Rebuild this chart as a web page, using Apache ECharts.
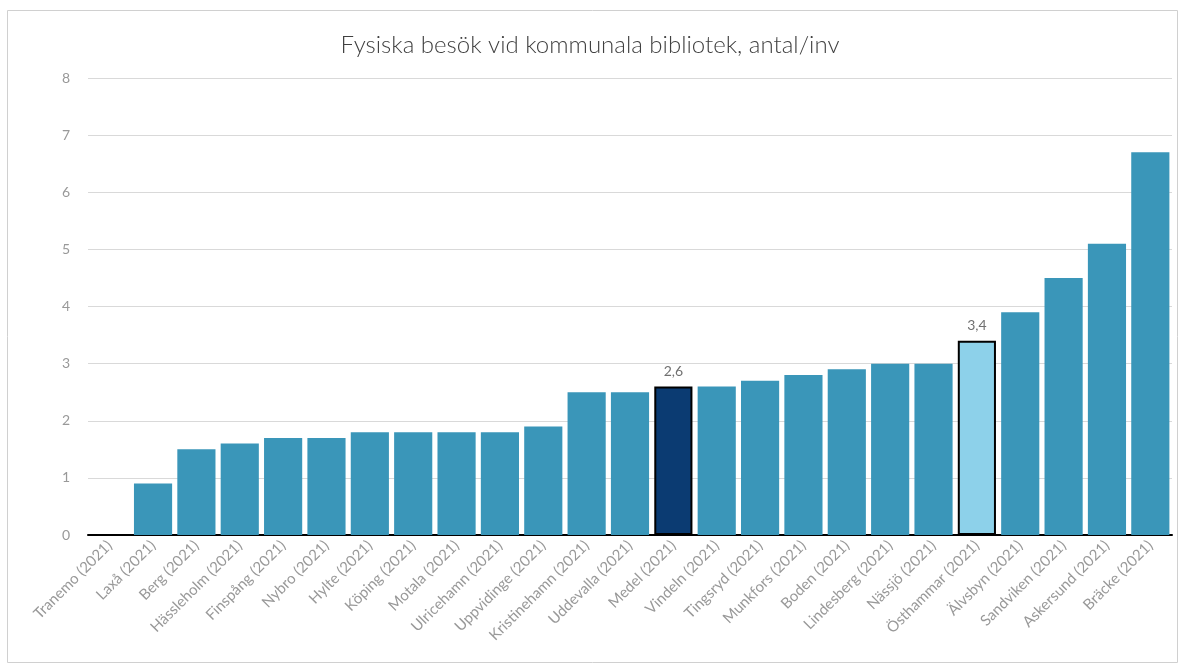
<!DOCTYPE html>
<html><head><meta charset="utf-8">
<script src="https://cdn.jsdelivr.net/npm/echarts@6/dist/echarts.min.js"></script>
<style>html,body{margin:0;padding:0;background:#fff}#c{width:1180px;height:666px}</style>
</head><body><div id="c"></div>
<script>
const categories = ["Tranemo (2021)","Laxå (2021)","Berg (2021)","Hässleholm (2021)","Finspång (2021)","Nybro (2021)","Hylte (2021)","Köping (2021)","Motala (2021)","Ulricehamn (2021)","Uppvidinge (2021)","Kristinehamn (2021)","Uddevalla (2021)","Medel (2021)","Vindeln (2021)","Tingsryd (2021)","Munkfors (2021)","Boden (2021)","Lindesberg (2021)","Nässjö (2021)","Östhammar (2021)","Älvsbyn (2021)","Sandviken (2021)","Askersund (2021)","Bräcke (2021)"];
const values = [0,0.9,1.5,1.6,1.7,1.7,1.8,1.8,1.8,1.8,1.9,2.5,2.5,2.6,2.6,2.7,2.8,2.9,3.0,3.0,3.4,3.9,4.5,5.1,6.7];
const yTicks = [0,1,2,3,4,5,6,7,8];
const highlightAvg = "Medel (2021)";
const highlightSelf = "Östhammar (2021)";

const data = values.map((v,i)=>{
  const c = categories[i];
  if (c===highlightAvg) return {value:v,itemStyle:{color:'#0b3b72',borderColor:'#000',borderWidth:2},label:{show:true}};
  if (c===highlightSelf) return {value:v,itemStyle:{color:'#8dd1ea',borderColor:'#000',borderWidth:2},label:{show:true}};
  return {value:v};
});
const chart = echarts.init(document.getElementById('c'));
chart.setOption({
  backgroundColor:'#fff',
  animation:false,
  graphic:[{type:'rect',shape:{x:7.5,y:10.5,width:1170,height:652},style:{fill:'none',stroke:'#d0d0d0',lineWidth:1}}],
  title:{text:'Fysiska besök vid kommunala bibliotek, antal/inv',left:'center',top:28,
    textStyle:{fontFamily:'Lato',fontWeight:300,fontSize:24,color:'#404040'}},
  grid:{left:88,right:8,top:78,bottom:131},
  xAxis:{type:'category',data:categories,
    axisLine:{lineStyle:{color:'#000',width:2}},axisTick:{show:false},
    axisLabel:{rotate:45,interval:0,fontFamily:'Lato',fontSize:15,color:'#999999',margin:8}},
  yAxis:{type:'value',min:0,max:8,interval:1,
    axisLine:{show:false},axisTick:{show:false},
    splitLine:{lineStyle:{color:'#d9d9d9'}},
    axisLabel:{fontFamily:'Lato',fontSize:14,color:'#999999',margin:18,
      formatter:v=>yTicks.includes(v)?String(v):''}},
  series:[{type:'bar',data:data,barCategoryGap:'12%',
    itemStyle:{color:'#3a96b9'},
    label:{show:false,position:'top',distance:8,fontFamily:'Lato',fontSize:14,color:'#707070',
      formatter:p=>String(p.value).replace('.',',')}}]
});
</script></body></html>
